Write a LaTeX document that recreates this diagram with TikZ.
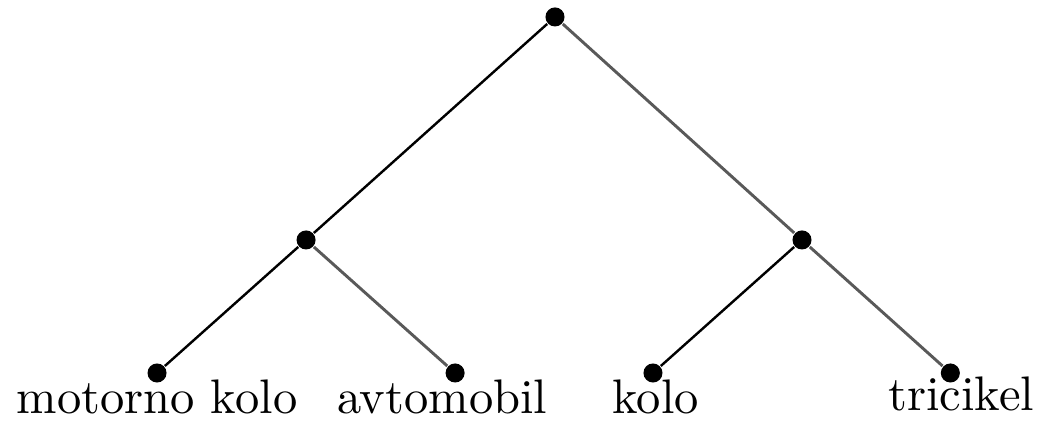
\documentclass[tikz,border=0pt]{standalone}
\usetikzlibrary{positioning}
\tikzset{
    dot/.style={circle, fill=black, inner sep=0pt, minimum size=1.38mm},
    branchl/.style={draw, black, line width=0.5pt},
    branchr/.style={draw, black!65, line width=0.6pt},
    word/.style={anchor=base, inner sep=0pt}
}
\begin{document}
\begin{tikzpicture}[on grid]
    \useasboundingbox (-4.022,0.123) rectangle (3.493,-2.935);

    % Tree nodes
    \node[dot] (root) at (0,0) {};
    \node[dot, below left=1.616cm and 1.804cm of root] (motor) {};
    \node[dot, below right=1.616cm and 1.790cm of root] (pedal) {};
    \node[dot, below left=0.964cm and 1.080cm of motor] (moto) {};
    \node[dot, below right=0.964cm and 1.080cm of motor] (avto) {};
    \node[dot, below left=0.964cm and 1.080cm of pedal] (kolo) {};
    \node[dot, below right=0.964cm and 1.075cm of pedal] (tri) {};

    % Branches
    \draw[branchl] (root) -- (motor);
    \draw[branchr] (root) -- (pedal);
    \draw[branchl] (motor) -- (moto);
    \draw[branchr] (motor) -- (avto);
    \draw[branchl] (pedal) -- (kolo);
    \draw[branchr] (pedal) -- (tri);

    % Leaf words
    \node[word] (motoword) at ([yshift=-2.9mm]moto.center) {motorno kolo};
    \node[word] (avtoword) at ([xshift=-0.94mm, yshift=-2.9mm]avto.center) {avtomobil};
    \node[word] (koloword) at ([xshift=0.2mm, yshift=-2.9mm]kolo.center) {kolo};
    \node[word] (triword) at ([xshift=0.8mm, yshift=-2.75mm]tri.center) {tricikel};
\end{tikzpicture}
\end{document}
